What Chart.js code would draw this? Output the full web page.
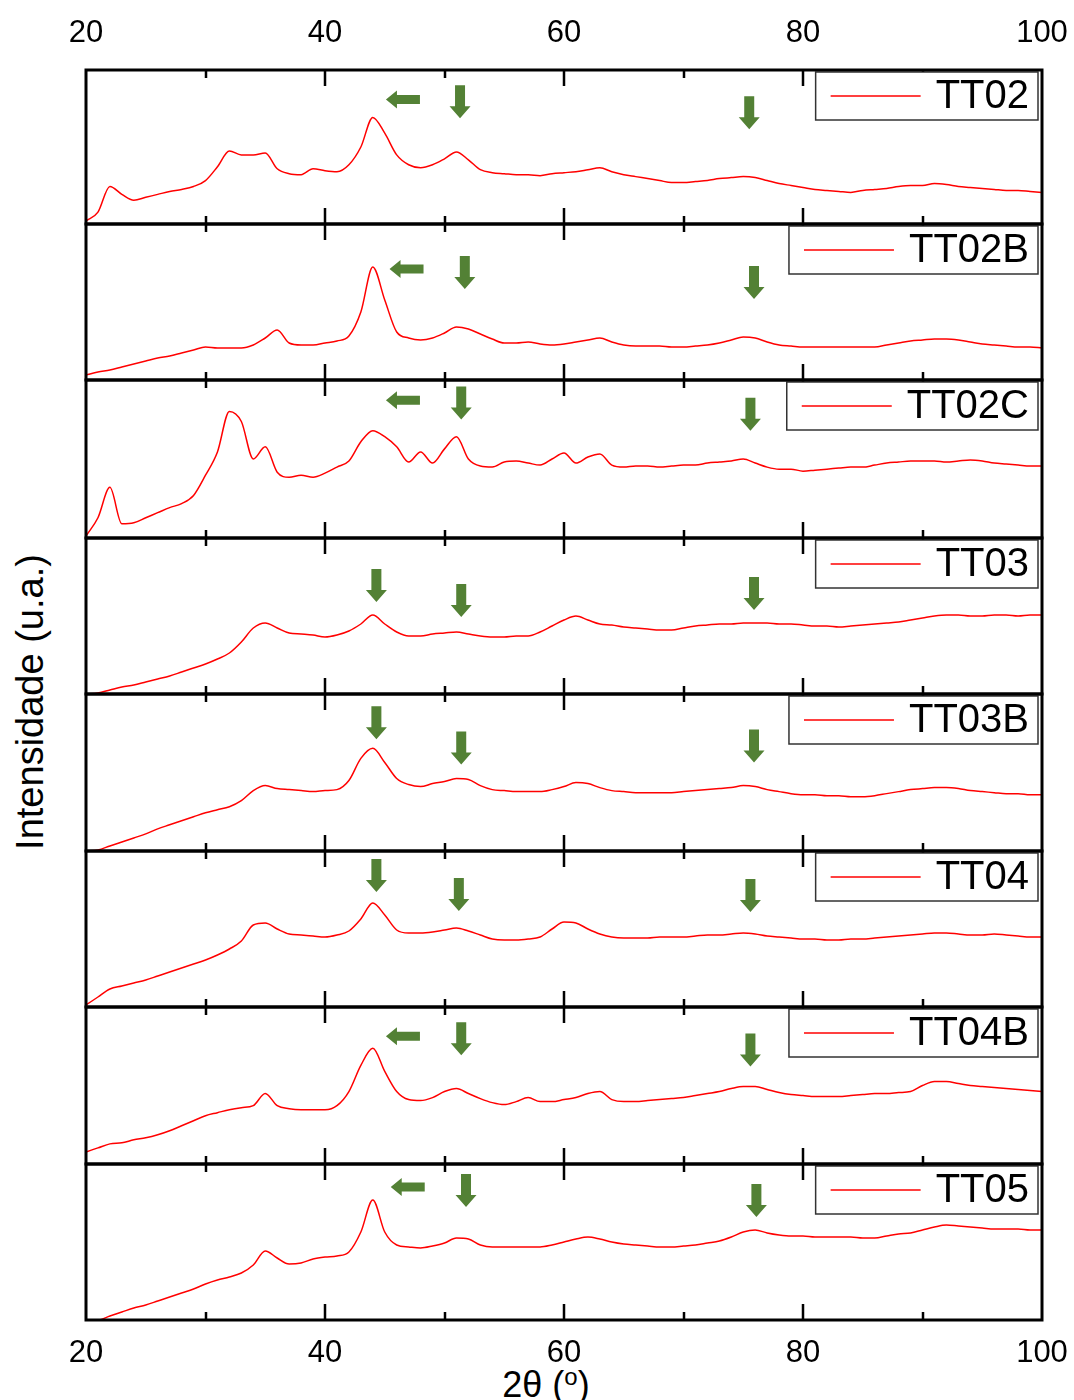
<!DOCTYPE html>
<html>
<head>
<meta charset="utf-8">
<script src="https://cdn.jsdelivr.net/npm/chart.js@4.4.1/dist/chart.umd.min.js"></script>
<style>
  body { margin: 0; width: 1074px; height: 1400px; overflow: hidden; background: #fff; position: relative;
         font-family: "Liberation Sans", Arial, sans-serif; color: #000; }
  canvas { position: absolute; left: 0; }
  #ytitle { position: absolute; left: 30px; top: 702px; transform: translate(-50%, -50%) rotate(-90deg);
            font-size: 38px; line-height: 1; white-space: nowrap; }
  #xtitle { position: absolute; left: 546px; top: 1367px; transform: translateX(-50%);
            font-size: 36px; line-height: 1; white-space: nowrap; }
  #xtitle sup { font-size: 24px; vertical-align: 12px; line-height: 0; }
</style>
</head>
<body>
<div id="ytitle">Intensidade (u.a.)</div>
<div id="xtitle">2θ (<sup>o</sup>)</div>
<script>
// 2theta (degrees), shared by every pattern
const twoTheta = [
  20, 21, 22, 23, 24, 25, 26, 27, 28, 29,
  30, 31, 32, 33, 34, 35, 36, 37, 38, 39,
  40, 41, 42, 43, 44, 45, 46, 47, 48, 49,
  50, 51, 52, 53, 54, 55, 56, 57, 58, 59,
  60, 61, 62, 63, 64, 65, 66, 67, 68, 69,
  70, 71, 72, 73, 74, 75, 76, 77, 78, 79,
  80, 81, 82, 83, 84, 85, 86, 87, 88, 89,
  90, 91, 92, 93, 94, 95, 96, 97, 98, 99,
  100
]

const samples = ['TT02', 'TT02B', 'TT02C', 'TT03', 'TT03B', 'TT04', 'TT04B', 'TT05']

// intensities (u.a.)
const tt02 = [
  3, 12, 38, 30, 24, 27, 30, 33, 35, 38,
  44, 58, 74, 70, 70, 72, 56, 51, 50, 56,
  54, 53, 60, 78, 108, 92, 70, 60, 57, 60,
  66, 73, 65, 55, 52, 51, 50, 50, 49, 51,
  52, 53, 55, 57, 53, 50, 48, 46, 44, 42,
  42, 43, 44, 46, 47, 48, 47, 44, 41, 39,
  37, 35, 34, 33, 32, 34, 35, 36, 38, 39,
  39, 41, 40, 38, 37, 36, 35, 34, 34, 33,
  32
]
const tt02b = [
  5, 8, 10, 13, 16, 19, 22, 24, 27, 30,
  33, 32, 32, 32, 35, 42, 50, 37, 35, 35,
  37, 39, 44, 68, 113, 80, 48, 42, 40, 42,
  47, 53, 51, 46, 41, 37, 37, 38, 36, 35,
  36, 38, 40, 42, 38, 35, 34, 34, 34, 33,
  33, 34, 35, 37, 40, 43, 42, 38, 35, 34,
  33, 33, 33, 33, 33, 33, 33, 35, 37, 39,
  40, 41, 41, 40, 38, 36, 35, 34, 33, 33,
  32
]
const tt02c = [
  2, 20, 50, 14, 15, 20, 25, 30, 34, 42,
  62, 85, 125, 115, 78, 90, 65, 60, 62, 60,
  64, 70, 76, 95, 106, 100, 90, 75, 85, 74,
  88, 100, 78, 71, 70, 75, 76, 74, 72, 78,
  84, 74, 80, 83, 72, 70, 71, 71, 70, 71,
  72, 72, 74, 75, 76, 78, 74, 70, 68, 68,
  66, 67, 68, 69, 70, 70, 72, 74, 75, 76,
  76, 76, 75, 76, 77, 76, 74, 73, 72, 71,
  71
]
const tt03 = [
  0, 1, 4, 7, 9, 12, 15, 18, 22, 26,
  30, 35, 41, 52, 66, 71, 66, 61, 60, 59,
  57, 59, 63, 70, 79, 70, 62, 58, 58, 60,
  61, 62, 60, 58, 57, 57, 58, 58, 62, 68,
  74, 78, 74, 70, 69, 67, 66, 65, 64, 64,
  66, 68, 69, 70, 70, 71, 71, 71, 70, 70,
  69, 68, 68, 67, 68, 69, 70, 71, 72, 74,
  76, 78, 79, 79, 78, 78, 79, 79, 78, 79,
  79
]
const tt03b = [
  0, 1, 5, 9, 13, 17, 22, 26, 30, 34,
  38, 41, 44, 50, 60, 65, 62, 61, 60, 59,
  60, 61, 70, 92, 102, 88, 72, 66, 64, 67,
  69, 72, 71, 65, 61, 60, 59, 59, 59, 61,
  64, 68, 67, 63, 60, 59, 58, 58, 58, 58,
  59, 60, 61, 62, 63, 65, 64, 61, 59, 57,
  56, 56, 55, 55, 54, 54, 55, 57, 59, 61,
  62, 63, 63, 62, 60, 59, 58, 57, 57, 56,
  56
]
const tt04 = [
  2, 10, 18, 21, 24, 27, 31, 35, 39, 43,
  47, 52, 58, 66, 82, 84, 78, 73, 72, 71,
  70, 72, 76, 88, 104, 92, 77, 74, 74, 75,
  77, 79, 76, 72, 68, 67, 67, 68, 70, 78,
  85, 84, 78, 73, 70, 69, 69, 69, 70, 70,
  70, 71, 72, 72, 73, 74, 73, 71, 70, 69,
  68, 68, 67, 67, 68, 68, 69, 70, 71, 72,
  73, 74, 74, 73, 72, 72, 73, 72, 71, 70,
  70
]
const tt04b = [
  12, 16, 20, 21, 24, 26, 29, 33, 38, 43,
  48, 51, 54, 56, 58, 70, 58, 55, 54, 54,
  54, 58, 72, 98, 115, 92, 72, 64, 63, 66,
  72, 75, 70, 65, 61, 59, 62, 66, 62, 62,
  64, 66, 70, 72, 64, 62, 62, 63, 64, 65,
  66, 68, 70, 72, 75, 77, 77, 74, 71, 69,
  68, 67, 67, 67, 68, 69, 70, 70, 71, 72,
  78, 82, 82, 80, 78, 77, 76, 75, 74, 73,
  72
]
const tt05 = [
  0, 0, 4, 8, 12, 15, 19, 23, 27, 31,
  36, 40, 43, 47, 55, 69, 62, 56, 57, 61,
  63, 64, 68, 88, 120, 88, 75, 73, 72, 74,
  77, 82, 81, 75, 73, 73, 73, 73, 73, 75,
  78, 81, 83, 81, 78, 76, 75, 74, 73, 73,
  74, 75, 77, 79, 83, 88, 90, 87, 85, 84,
  84, 83, 83, 83, 83, 82, 82, 84, 86, 87,
  90, 93, 95, 94, 93, 92, 91, 91, 91, 90,
  90
]
const series = [tt02, tt02b, tt02c, tt03, tt03b, tt04, tt04b, tt05]

// green marker arrows, [2theta, intensity] of the arrow tip
const downArrows = [
  [[51.3, 107], [75.5, 96]],
  [[51.7, 91], [75.9, 81]],
  [[51.4, 117], [75.6, 106]],
  [[44.3, 92], [51.4, 77], [75.9, 84]],
  [[44.3, 111], [51.4, 86], [75.9, 88]],
  [[44.3, 115], [51.2, 96], [75.6, 95]],
  [[51.4, 108], [75.6, 97]],
  [[51.8, 113], [76.1, 103]]
]
const leftArrows = [
  [[45.1, 126]],
  [[45.4, 111]],
  [[45.1, 136]],
  [],
  [],
  [],
  [[45.1, 127]],
  [[45.5, 133]]
]

// page layout of the stacked panels (px)
const panelEdges = [70, 224, 380, 538, 694, 851, 1007, 1164, 1320]
const plotLeft = 86
const plotRight = 1042
const yMax = 156
const green = '#538135'
const font = '"Liberation Sans", Arial, sans-serif'

function drawDown(ctx, px, py) {
    ctx.beginPath()
    ctx.moveTo(px - 5, py - 33)
    ctx.lineTo(px + 5, py - 33)
    ctx.lineTo(px + 5, py - 12)
    ctx.lineTo(px + 10.5, py - 12)
    ctx.lineTo(px, py)
    ctx.lineTo(px - 10.5, py - 12)
    ctx.lineTo(px - 5, py - 12)
    ctx.closePath()
    ctx.fill()
}

function drawLeft(ctx, px, py) {
    ctx.beginPath()
    ctx.moveTo(px, py)
    ctx.lineTo(px + 11, py - 9)
    ctx.lineTo(px + 11, py - 4.5)
    ctx.lineTo(px + 34, py - 4.5)
    ctx.lineTo(px + 34, py + 4.5)
    ctx.lineTo(px + 11, py + 4.5)
    ctx.lineTo(px + 11, py + 9)
    ctx.closePath()
    ctx.fill()
}

const xrdFrame = {
    id: 'xrdFrame',
    afterDatasetsDraw(chart, args, opts) {
        const ctx = chart.ctx
        const a = chart.chartArea
        const x = chart.scales.x
        const y = chart.scales.y
        ctx.save()

        // inward ticks on top and bottom edges
        ctx.strokeStyle = '#000'
        ctx.lineWidth = 2.5
        x.ticks.forEach(t => {
            if (t.value <= x.min || t.value >= x.max) return
            const px = Math.round(x.getPixelForValue(t.value))
            const len = t.value % 20 === 0 ? 16 : 8
            ctx.beginPath()
            ctx.moveTo(px, a.top)
            ctx.lineTo(px, a.top + len)
            ctx.moveTo(px, a.bottom)
            ctx.lineTo(px, a.bottom - len)
            ctx.stroke()
        })

        // arrows
        ctx.fillStyle = green
        opts.down.forEach(p => drawDown(ctx, x.getPixelForValue(p[0]), y.getPixelForValue(p[1])))
        opts.left.forEach(p => drawLeft(ctx, x.getPixelForValue(p[0]), y.getPixelForValue(p[1])))

        // legend box (covers the ticks under it)
        const ds = chart.data.datasets[0]
        ctx.font = '40px ' + font
        const tw = ctx.measureText(ds.label).width
        const bx1 = a.right - 4
        const tx = bx1 - 9 - tw
        const bx0 = tx - 120
        const by = a.top + 2
        const bh = 48
        ctx.fillStyle = '#fff'
        ctx.fillRect(bx0, by, bx1 - bx0, bh)
        ctx.strokeStyle = '#333'
        ctx.lineWidth = 1.5
        ctx.strokeRect(bx0, by, bx1 - bx0, bh)
        ctx.strokeStyle = ds.borderColor
        ctx.beginPath()
        ctx.moveTo(bx0 + 15, by + bh / 2)
        ctx.lineTo(bx0 + 105, by + bh / 2)
        ctx.stroke()
        ctx.fillStyle = '#000'
        ctx.textBaseline = 'middle'
        ctx.textAlign = 'left'
        ctx.fillText(ds.label, tx, by + bh / 2 + 1)

        // frame
        ctx.strokeStyle = '#000'
        ctx.lineWidth = 3
        ctx.strokeRect(a.left, a.top, a.right - a.left, a.bottom - a.top)

        // tick labels
        if (opts.labels) {
            ctx.font = '31px ' + font
            ctx.fillStyle = '#000'
            ctx.textAlign = 'center'
            ctx.textBaseline = 'middle'
            const ly = opts.labels === 'top' ? a.top - 37 : a.bottom + 33
            x.ticks.forEach(t => {
                if (t.value % 20 !== 0) return
                ctx.fillText(String(t.value), x.getPixelForValue(t.value), ly)
            })
        }
        ctx.restore()
    }
}

function buildPanel(i) {
    const top = panelEdges[i]
    const bottom = panelEdges[i + 1]
    const last = i === samples.length - 1
    const padTop = i === 0 ? top : 6
    const padBottom = last ? 1400 - bottom : 6

    const canvas = document.createElement('canvas')
    canvas.width = 1074
    canvas.height = padTop + (bottom - top) + padBottom
    canvas.style.top = (top - padTop) + 'px'
    document.body.appendChild(canvas)

    const points = series[i].map((v, k) => ({ x: twoTheta[k], y: v }))

    new Chart(canvas, {
        type: 'line',
        data: {
            datasets: [{
                label: samples[i],
                data: points,
                borderColor: '#ff0000',
                borderWidth: 1.5,
                pointRadius: 0,
                cubicInterpolationMode: 'monotone',
                fill: false
            }]
        },
        options: {
            responsive: false,
            animation: false,
            devicePixelRatio: 1,
            layout: { padding: { left: plotLeft, right: 1074 - plotRight, top: padTop, bottom: padBottom } },
            scales: {
                x: { type: 'linear', min: 20, max: 100, display: false, ticks: { stepSize: 10 } },
                y: { min: 0, max: yMax, display: false }
            },
            plugins: {
                legend: { display: false },
                tooltip: { enabled: false },
                xrdFrame: {
                    down: downArrows[i],
                    left: leftArrows[i],
                    labels: i === 0 ? 'top' : (last ? 'bottom' : null)
                }
            }
        },
        plugins: [xrdFrame]
    })
}

window.addEventListener('load', () => {
    try {
        samples.forEach((s, i) => buildPanel(i))
    } catch (e) {
        console.error(e)
    }
})
</script>
</body>
</html>
